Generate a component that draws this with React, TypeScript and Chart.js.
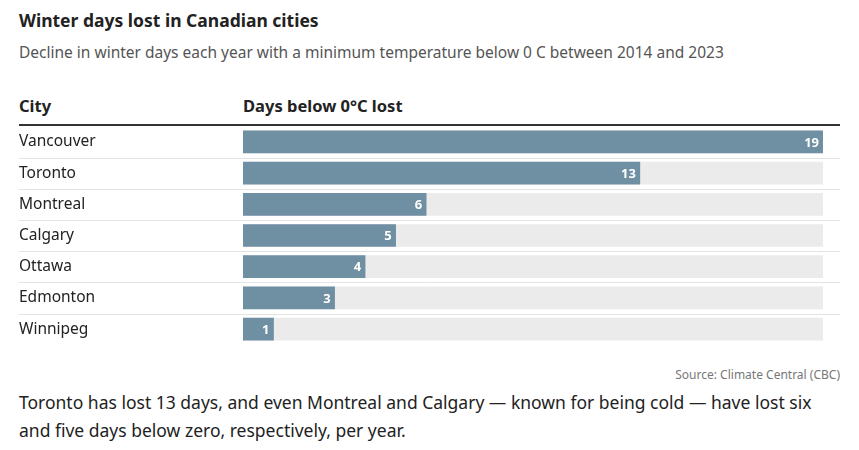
import React, { useEffect, useRef } from "react";
import { Chart, registerables } from "chart.js";

Chart.register(...registerables);

const cities = ["Vancouver", "Toronto", "Montreal", "Calgary", "Ottawa", "Edmonton", "Winnipeg"];
const daysLost = [19, 13, 6, 5, 4, 3, 1];
const maxDays = 19;

const FONT = '"Noto Sans", "Open Sans", sans-serif';
const BAR_COLOR = "#6f8fa3";
const BG_COLOR = "#ebebeb";

export default function App() {
  const ref = useRef<HTMLCanvasElement | null>(null);

  useEffect(() => {
    if (!ref.current) return;
    const rowLines = {
      id: "rowLines",
      beforeDatasetsDraw(chart: any) {
        const ctx = chart.ctx;
        const y = chart.scales.y;
        ctx.save();
        ctx.strokeStyle = "#e3e3e3";
        ctx.lineWidth = 1;
        for (let i = 0; i < cities.length - 1; i++) {
          const p = Math.round((y.getPixelForValue(i) + y.getPixelForValue(i + 1)) / 2) + 0.5;
          ctx.beginPath();
          ctx.moveTo(19, p);
          ctx.lineTo(840, p);
          ctx.stroke();
        }
        ctx.restore();
      },
      afterDatasetsDraw(chart: any) {
        const ctx = chart.ctx;
        const meta = chart.getDatasetMeta(0);
        ctx.save();
        ctx.fillStyle = "#ffffff";
        ctx.font = `bold 13px ${FONT}`;
        ctx.textAlign = "right";
        ctx.textBaseline = "middle";
        meta.data.forEach((el: any, i: number) => {
          ctx.fillText(String(daysLost[i]), el.x - 4, el.y + 1);
        });
        ctx.restore();
      },
    };
    const chart = new Chart(ref.current, {
      type: "bar",
      data: {
        labels: cities,
        datasets: [
          {
            data: daysLost,
            backgroundColor: BAR_COLOR,
            grouped: false,
            barThickness: 22,
            order: 0,
          } as any,
          {
            data: cities.map(() => maxDays),
            backgroundColor: BG_COLOR,
            grouped: false,
            barThickness: 22,
            order: 1,
          } as any,
        ],
      },
      options: {
        indexAxis: "y",
        animation: false,
        responsive: false,
        maintainAspectRatio: false,
        layout: { padding: { left: 19, right: 36, top: 0, bottom: 0 } },
        plugins: { legend: { display: false }, tooltip: { enabled: false } },
        scales: {
          x: { display: false, min: 0, max: maxDays },
          y: {
            grid: { display: false },
            border: { display: false },
            ticks: {
              crossAlign: "far",
              color: "#222",
              font: { family: FONT, size: 15.5 },
              padding: 0,
            },
            afterFit(scale: any) {
              scale.width = 224;
            },
          },
        },
      },
      plugins: [rowLines],
    } as any);
    return () => chart.destroy();
  }, []);

  return (
    <div style={{ position: "absolute", left: 0, top: 0, width: 859, height: 450, background: "#fff", fontFamily: FONT, color: "#222" }}>
      <div style={{ position: "absolute", left: 19, top: 8, fontSize: 17.5, fontWeight: 700, whiteSpace: "nowrap" }}>
        Winter days lost in Canadian cities
      </div>
      <div style={{ position: "absolute", left: 19, top: 41, fontSize: 15.5, color: "#555", whiteSpace: "nowrap" }}>
        Decline in winter days each year with a minimum temperature below 0 C between 2014 and 2023
      </div>
      <div style={{ position: "absolute", left: 19, top: 94, fontSize: 16.5, fontWeight: 700, whiteSpace: "nowrap" }}>City</div>
      <div style={{ position: "absolute", left: 243, top: 94, fontSize: 16.5, fontWeight: 700, whiteSpace: "nowrap" }}>
        Days below 0°C lost
      </div>
      <div style={{ position: "absolute", left: 19, top: 124, width: 821, height: 2, background: "#333" }} />
      <canvas ref={ref} width={859} height={237} style={{ position: "absolute", left: 0, top: 117, width: 859, height: 237 }} />
      <div style={{ position: "absolute", right: 19, top: 366, fontSize: 12, color: "#777", whiteSpace: "nowrap" }}>
        Source: Climate Central (CBC)
      </div>
      <div style={{ position: "absolute", left: 19, top: 388, width: 815, fontSize: 17.5, lineHeight: "28px", color: "#222" }}>
        Toronto has lost 13 days, and even Montreal and Calgary — known for being cold — have lost six and five days below zero, respectively, per year.
      </div>
    </div>
  );
}
